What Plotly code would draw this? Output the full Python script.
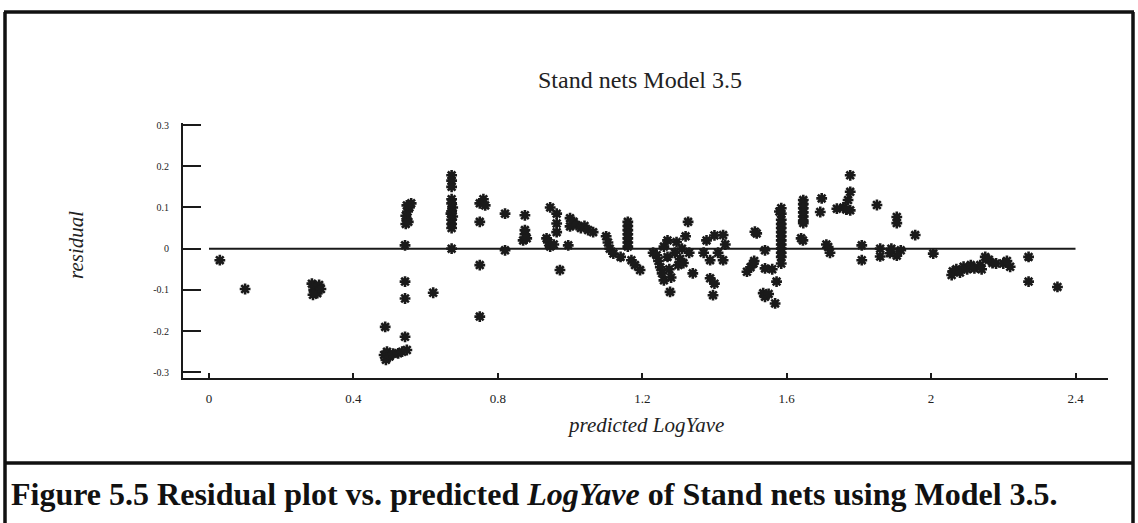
import plotly.graph_objects as go

# predicted LogYave (x) and residual (y)
pred = [0.03, 0.10,
        0.285, 0.29, 0.295, 0.30, 0.305, 0.31, 0.288,
        0.488,
        0.485, 0.49, 0.493, 0.50, 0.51, 0.524, 0.535, 0.548,
        0.543, 0.543, 0.543, 0.543,
        0.545, 0.548, 0.545, 0.55, 0.555, 0.56, 0.548, 0.552,
        0.621,
        0.672, 0.672, 0.672, 0.672, 0.672, 0.675, 0.672, 0.67, 0.675, 0.672, 0.672, 0.672, 0.672,
        0.75, 0.76, 0.765, 0.75, 0.75, 0.75,
        0.82, 0.82,
        0.875, 0.875, 0.875, 0.87, 0.88,
        0.945, 0.963, 0.963, 0.963, 0.935, 0.94, 0.945, 0.955, 0.972,
        0.995, 1.0, 1.0, 1.01, 1.018, 1.03, 1.04, 1.05, 1.064,
        1.1, 1.105, 1.11, 1.12, 1.14,
        1.16, 1.16, 1.16, 1.16, 1.16, 1.16, 1.16,
        1.17, 1.194, 1.18,
        1.23, 1.24, 1.245, 1.25, 1.26, 1.26, 1.255, 1.277, 1.27, 1.27, 1.275, 1.28, 1.29, 1.295,
        1.3, 1.31, 1.305, 1.327, 1.314, 1.34, 1.32, 1.33,
        1.37, 1.378, 1.388, 1.40, 1.424, 1.424, 1.41, 1.388, 1.396, 1.43, 1.40,
        1.49, 1.5, 1.508, 1.51, 1.512, 1.517, 1.54, 1.54, 1.535, 1.54, 1.55, 1.568, 1.572, 1.56,
        1.585, 1.585, 1.585, 1.585, 1.585, 1.585, 1.585, 1.585, 1.585, 1.585, 1.585, 1.585, 1.585, 1.58,
        1.646, 1.646, 1.646, 1.646, 1.646, 1.646, 1.646, 1.64, 1.645,
        1.697, 1.693, 1.715, 1.72, 1.71,
        1.739, 1.757, 1.776, 1.776, 1.77, 1.776, 1.765,
        1.808, 1.808,
        1.85, 1.859, 1.859,
        1.905, 1.905, 1.916, 1.905, 1.886, 1.89,
        1.956, 2.006,
        2.057, 2.06, 2.07, 2.08, 2.09, 2.1, 2.11, 2.12, 2.136, 2.14, 2.15, 2.16, 2.17, 2.18, 2.2, 2.219, 2.21,
        2.27, 2.27, 2.35]

resid = [-0.028, -0.098,
         -0.085, -0.10, -0.092, -0.108, -0.088, -0.098, -0.112,
         -0.19,
         -0.258, -0.27, -0.25, -0.262, -0.255, -0.254, -0.25, -0.246,
         -0.214, -0.121, -0.08, 0.008,
         0.06, 0.07, 0.08, 0.09, 0.10, 0.11, 0.105, 0.065,
         -0.107,
         0.178, 0.165, 0.15, 0.12, 0.11, 0.10, 0.09, 0.085, 0.078, 0.07, 0.06, 0.05, 0.0,
         0.11, 0.12, 0.105, 0.065, -0.04, -0.165,
         0.085, -0.004,
         0.081, 0.045, 0.035, 0.02, 0.025,
         0.10, 0.085, 0.061, 0.04, 0.025, 0.015, 0.005, 0.01, -0.052,
         0.008, 0.074, 0.054, 0.065, 0.057, 0.05, 0.055, 0.045, 0.04,
         0.03, 0.015, 0.0, -0.012, -0.02,
         0.065, 0.055, 0.045, 0.035, 0.025, 0.015, 0.005,
         -0.028, -0.052, -0.04,
         -0.01, -0.016, -0.03, -0.045, 0.005, -0.077, -0.06, -0.105, 0.02, -0.02, -0.05, -0.07, -0.01, 0.016,
         -0.04, 0.0, -0.025, 0.065, -0.035, -0.06, 0.03, -0.01,
         -0.01, 0.02, -0.028, 0.032, 0.033, -0.028, -0.01, -0.072, -0.113, 0.01, -0.085,
         -0.056, -0.045, -0.036, -0.03, 0.041, 0.037, -0.004, -0.048, -0.108, -0.117, -0.11, -0.133, -0.08, -0.05,
         0.098, 0.085, 0.07, 0.06, 0.05, 0.04, 0.03, 0.02, 0.01, 0.0, -0.01, -0.02, -0.036, 0.09,
         0.118, 0.108, 0.098, 0.088, 0.078, 0.068, 0.062, 0.025, 0.02,
         0.122, 0.089, 0.004, -0.01, 0.01,
         0.097, 0.10, 0.138, 0.178, 0.118, 0.093, 0.095,
         0.008, -0.028,
         0.106, 0.0, -0.019,
         0.077, 0.062, -0.004, -0.017, -0.011, 0.0,
         0.033, -0.012,
         -0.064, -0.055, -0.05, -0.058, -0.044, -0.05, -0.04, -0.048, -0.04, -0.05, -0.02, -0.027, -0.035, -0.036, -0.036, -0.044, -0.03,
         -0.02, -0.08, -0.093]

ref_x = [0, 2.4]
ref_y = [0, 0]

x_ticks = [0, 0.4, 0.8, 1.2, 1.6, 2, 2.4]
x_tick_text = ["0", "0.4", "0.8", "1.2", "1.6", "2", "2.4"]
y_ticks = [0.3, 0.2, 0.1, 0, -0.1, -0.2, -0.3]
y_tick_text = ["0.3", "0.2", "0.1", "0", "-0.1", "-0.2", "-0.3"]

W, H = 1138, 523
L, R, T, B = 183, 1108, 123, 378  # plot area in pixels
pw, ph = R - L, B - T


def px(x):
    return (x - L) / pw


def py(y):
    return (B - y) / ph


SERIF = "Liberation Serif, Times New Roman, serif"
INK = "#1a1a1a"

fig = go.Figure()
fig.add_trace(go.Scatter(x=ref_x, y=ref_y, mode="lines",
                         line=dict(color=INK, width=2), hoverinfo="skip",
                         showlegend=False))
fig.add_trace(go.Scatter(x=pred, y=resid, mode="markers",
                         marker=dict(symbol="asterisk-open", size=9, color=INK,
                                     line=dict(color=INK, width=2.6)),
                         showlegend=False))

fig.update_layout(
    width=W, height=H,
    margin=dict(l=L, r=W - R, t=T, b=H - B, pad=0),
    paper_bgcolor="white", plot_bgcolor="white",
    font=dict(family=SERIF, color="#222"),
    xaxis=dict(range=[-0.072, 2.49], showgrid=False, zeroline=False,
               showline=True, linecolor=INK, linewidth=2,
               ticks="inside", ticklen=5, tickwidth=1.5, tickcolor=INK,
               tickvals=x_ticks, ticktext=x_tick_text,
               tickfont=dict(size=13, family=SERIF), ticklabelstandoff=7),
    yaxis=dict(range=[-0.314, 0.305], showgrid=False, zeroline=False,
               showline=True, linecolor=INK, linewidth=2,
               ticks="inside", ticklen=18, tickwidth=1.5, tickcolor=INK,
               tickvals=y_ticks, ticktext=y_tick_text,
               tickfont=dict(size=10, family=SERIF), ticklabelstandoff=10),
)

annotations = [
    dict(text="Stand nets Model 3.5", x=px(640), y=py(80), font=dict(size=24)),
    dict(text="<i>predicted LogYave</i>", x=px(645), y=py(425), font=dict(size=21)),
    dict(text="<i>residual</i>", x=px(76), y=py(245), textangle=-90, font=dict(size=21)),
    dict(text="<b>Figure 5.5 Residual plot vs. predicted <i>LogYave</i> of Stand nets using Model 3.5.</b>",
         x=px(9), y=py(494), xanchor="left", font=dict(size=32, color="#111")),
]
for a in annotations:
    a.setdefault("xanchor", "center")
    fig.add_annotation(xref="paper", yref="paper", showarrow=False, yanchor="middle",
                       font_family=SERIF, **{k: v for k, v in a.items()})

# frame around the figure and the caption box
frame = [
    (4, 12, 1134, 12), (4, 463, 1134, 463),
    (5, 12, 5, 523), (1133, 12, 1133, 523),
]
for x0, y0, x1, y1 in frame:
    fig.add_shape(type="line", xref="paper", yref="paper",
                  x0=px(x0), y0=py(y0), x1=px(x1), y1=py(y1),
                  line=dict(color="#111", width=3.5))

fig.write_html("out.html")
